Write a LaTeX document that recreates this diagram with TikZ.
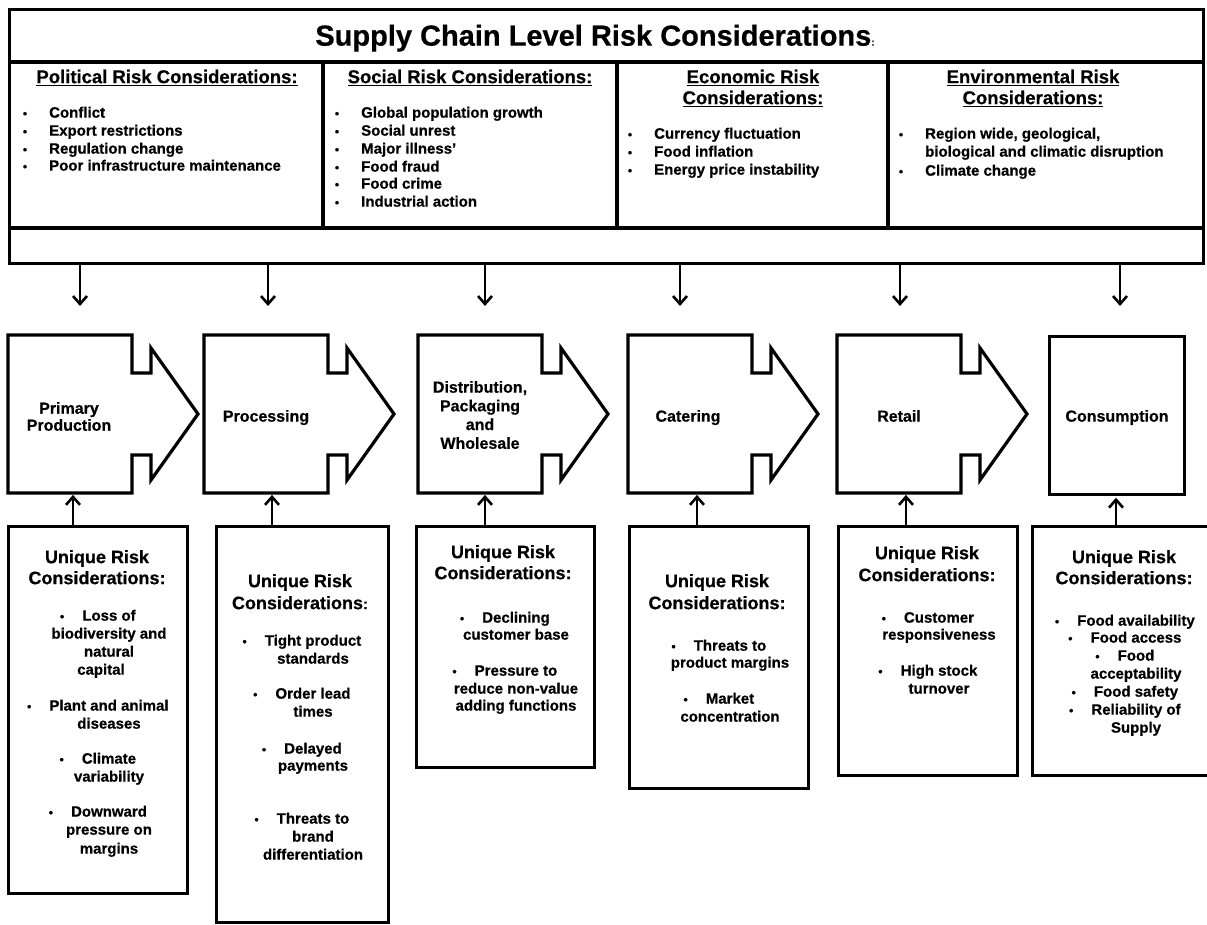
\documentclass[tikz,border=0pt]{standalone}
\usepackage{fontspec}
\setmainfont[BoldFeatures={FakeBold=0.6}]{Liberation Sans}
\usetikzlibrary{arrows.meta}
\newcommand\fsz[1]{\fontsize{#1}{#1}\selectfont\bfseries}
\newcommand\fszl[2]{\fontsize{#1}{#2}\selectfont\bfseries}
% top list item with bullet / continuation
\newcommand\topitem[4]{\node[item] (#1) at (#2,#3) {#4};
  \node[bul] (#1b) at ([xshift=-24pt]#1.mid west) {\textbullet};}
\newcommand\topcont[4]{\node[item] (#1) at (#2,#3) {#4};}
% risk box lines
\newcommand\riskitem[4]{\node[ritem] (#1) at (#2,#3) {#4};
  \node[bul] (#1b) at ([xshift=-20pt]#1.mid west) {\textbullet};}
\newcommand\riskcont[4]{\node[ritem] (#1) at (#2,#3) {#4};}
\newcommand\chevronpath[1]{\draw[frame] (#1,335) -- ++(124,0) -- ++(0,38) -- ++(19,0) -- ++(0,-25) -- ++(47,66) -- ++(-47,66) -- ++(0,-25) -- ++(-19,0) -- ++(0,38) -- ++(-124,0) -- cycle;}
\begin{document}
\begin{tikzpicture}[x=1pt,y=-1pt,
  frame/.style={draw=black, line width=3.2pt, line join=miter},
  arr/.style={draw=black, line width=2.6pt, -{Straight Barb[length=8pt,width=14pt]}},
  title/.style={font=\fsz{29}, inner sep=0pt, anchor=mid, yshift=-8pt},
  cathead/.style={font=\fsz{18.5}, inner sep=0pt, anchor=mid, yshift=-3.5pt},
  item/.style={font=\fsz{15}, inner sep=0pt, anchor=mid west, yshift=-3pt},
  bul/.style={font=\fsz{12}, inner sep=0pt, anchor=mid},
  stage/.style={font=\fsz{16}, inner sep=0pt, anchor=mid, yshift=-4pt},
  stagem/.style={inner sep=0pt, align=center, yshift=-2pt},
  rhead/.style={font=\fsz{18}, inner sep=0pt, anchor=mid, yshift=-3.5pt},
  ritem/.style={font=\fsz{15}, inner sep=0pt, anchor=mid, yshift=-3pt},
  body/.style={inner sep=0pt, minimum width=124pt, minimum height=158pt, anchor=north west},
  rbox/.style={frame, inner sep=0pt, anchor=north west},
]
\useasboundingbox (0,0) rectangle (1207,924);
\fill[white] (0,0) rectangle (1207,924);

% ---------- top frame ----------
\node[frame, anchor=north west, minimum width=1194pt, minimum height=254pt, inner sep=0pt] (top) at (8,8) {};
\draw[frame] (8,62) -- (1202,62);
\draw[frame] (8,228) -- (1202,228);
\draw[frame] (323,62) -- (323,228);
\draw[frame] (617,62) -- (617,228);
\draw[frame] (888,62) -- (888,228);

\node[title] (ttl) at (595,35) {Supply Chain Level Risk Considerations{\fsz{10}:}};

\node[cathead] (hpol) at (167,77) {\underline{Political Risk Considerations:}};
\node[cathead] (hsoc) at (470,77) {\underline{Social\ Risk Considerations:}};
\node[cathead] (heco1) at (753,77) {\underline{Economic Risk}};
\node[cathead] (heco2) at (753,98) {\underline{Considerations:}};
\node[cathead] (henv1) at (1033,77) {\underline{Environmental Risk}};
\node[cathead] (henv2) at (1033,98) {\underline{Considerations:}};

\topitem{p1}{49}{112}{Conflict}
\topitem{p2}{49}{130}{Export restrictions}
\topitem{p3}{49}{148}{Regulation change}
\topitem{p4}{49}{165}{Poor\ infrastructure maintenance}

\topitem{s1}{361}{112}{Global population growth}
\topitem{s2}{361}{130}{Social unrest}
\topitem{s3}{361}{148}{Major illness'}
\topitem{s4}{361}{166}{Food fraud}
\topitem{s5}{361}{183}{Food crime}
\topitem{s6}{361}{201}{Industrial action}

\topitem{e1}{654}{133}{Currency fluctuation}
\topitem{e2}{654}{151}{Food inflation}
\topitem{e3}{654}{169}{Energy price instability}

\topitem{v1}{925}{133}{Region wide, geological,}
\topcont{v2}{925}{151}{biological and climatic disruption}
\topitem{v3}{925}{170}{Climate change}

% ---------- stages ----------
\chevronpath{8}
\chevronpath{204}
\chevronpath{418}
\chevronpath{628}
\chevronpath{837}

\node[body] (c1) at (8,335) {};
\node[body] (c2) at (204,335) {};
\node[body] (c3) at (418,335) {};
\node[body] (c4) at (628,335) {};
\node[body] (c5) at (837,335) {};
\node[body, frame, minimum width=135pt] (c6) at (1048,335) {};

\node[stagem, font=\fszl{16}{17}] (l1) at (69,414.5) {Primary\\Production};
\node[stage] (l2) at (266,415) {Processing};
\node[stagem, font=\fszl{16}{18.7}] (l3) at (480,413) {Distribution,\\Packaging\\and\\Wholesale};
\node[stage] (l4) at (688,415) {Catering};
\node[stage] (l5) at (899,415) {Retail};
\node[stage] (l6) at (1117,415) {Consumption};

% ---------- down arrows ----------
\coordinate (d1) at (80,306);
\coordinate (d2) at (268,306);
\coordinate (d3) at (485,306);
\coordinate (d4) at (680,306);
\coordinate (d5) at (900,306);
\coordinate (d6) at (1120,306);
\foreach \i in {1,...,6} \draw[arr] (top.south -| d\i) -- (d\i);

% ---------- risk boxes ----------
\node[rbox, minimum width=179pt, minimum height=367pt] (r1) at (7,525) {};
\node[rbox, minimum width=172pt, minimum height=396pt] (r2) at (215,525) {};
\node[rbox, minimum width=178pt, minimum height=241pt] (r3) at (415,525) {};
\node[rbox, minimum width=179pt, minimum height=262pt] (r4) at (628,525) {};
\node[rbox, minimum width=179pt, minimum height=249pt] (r5) at (837,525) {};
\node[rbox, minimum width=200pt, minimum height=249pt] (r6) at (1031,525) {};

% ---------- up arrows ----------
\coordinate (u1) at (73,0);
\coordinate (u2) at (272,0);
\coordinate (u3) at (485,0);
\coordinate (u4) at (697,0);
\coordinate (u5) at (906,0);
\coordinate (u6) at (1116,0);
\foreach \i in {1,...,6} \draw[arr, shorten >=1.5pt] (r\i.north -| u\i) -- (c\i.south -| u\i);

% box 1
\node[rhead] (h1a) at (97,557) {Unique Risk};
\node[rhead] (h1b) at (97,578) {Considerations:};
\riskitem{a1}{109}{615}{Loss of}
\riskcont{a2}{109}{633}{biodiversity and}
\riskcont{a3}{109}{651}{natural}
\riskcont{a4}{101}{669}{capital}
\riskitem{a5}{109}{705}{Plant and animal}
\riskcont{a6}{109}{723}{diseases}
\riskitem{a7}{109}{758}{Climate}
\riskcont{a8}{109}{776}{variability}
\riskitem{a9}{109}{811}{Downward}
\riskcont{a10}{109}{829}{pressure on}
\riskcont{a11}{109}{848}{margins}

% box 2
\node[rhead] (h2a) at (300,581) {Unique Risk};
\node[rhead] (h2b) at (300,603) {Considerations{\fsz{15}:}};
\riskitem{b1}{313}{640}{Tight product}
\riskcont{b2}{313}{658}{standards}
\riskitem{b3}{313}{693}{Order lead}
\riskcont{b4}{313}{711}{times}
\riskitem{b5}{313}{748}{Delayed}
\riskcont{b6}{313}{765}{payments}
\riskitem{b7}{313}{818}{Threats to}
\riskcont{b8}{313}{836}{brand}
\riskcont{b9}{313}{854}{differentiation}

% box 3
\node[rhead] (h3a) at (503,552) {Unique Risk};
\node[rhead] (h3b) at (503,573) {Considerations:};
\riskitem{g1}{516}{617}{Declining}
\riskcont{g2}{516}{634}{customer base}
\riskitem{g3}{516}{670}{Pressure to}
\riskcont{g4}{516}{688}{reduce non-value}
\riskcont{g5}{516}{705}{adding functions}

% box 4
\node[rhead] (h4a) at (717,581) {Unique Risk};
\node[rhead] (h4b) at (717,603) {Considerations:};
\riskitem{k1}{730}{645}{Threats to}
\riskcont{k2}{730}{662}{product margins}
\riskitem{k3}{730}{698}{Market}
\riskcont{k4}{730}{716}{concentration}

% box 5
\node[rhead] (h5a) at (927,553) {Unique Risk};
\node[rhead] (h5b) at (927,575) {Considerations:};
\riskitem{m1}{939}{617}{Customer}
\riskcont{m2}{939}{634}{responsiveness}
\riskitem{m3}{939}{670}{High stock}
\riskcont{m4}{939}{688}{turnover}

% box 6
\node[rhead] (h6a) at (1124,557) {Unique Risk};
\node[rhead] (h6b) at (1124,578) {Considerations:};
\riskitem{n1}{1136}{620}{Food availability}
\riskitem{n2}{1136}{637}{Food access}
\riskitem{n3}{1136}{655}{Food}
\riskcont{n4}{1136}{673}{acceptability}
\riskitem{n5}{1136}{691}{Food safety}
\riskitem{n6}{1136}{709}{Reliability of}
\riskcont{n7}{1136}{727}{Supply}
\end{tikzpicture}
\end{document}
